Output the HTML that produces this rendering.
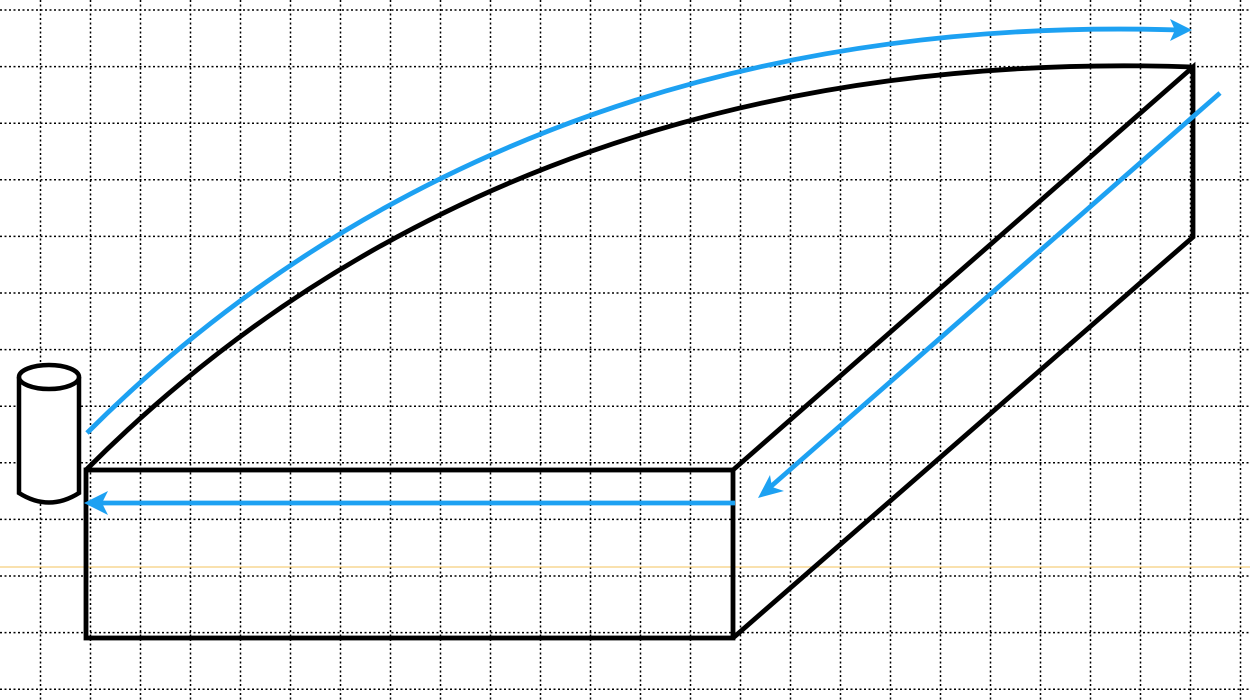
<!DOCTYPE html>
<html><head><meta charset="utf-8"><style>
html,body{margin:0;padding:0;background:#fff;width:1250px;height:700px;overflow:hidden}
svg{display:block}
</style></head><body>
<svg width="1250" height="700" viewBox="0 0 1250 700">
<g id="grid" stroke="#000" stroke-width="1.5" stroke-dasharray="2,2.5"></g>
<line x1="0" y1="567" x2="1250" y2="567" stroke="#f3c35c" stroke-width="1"/>
<g fill="none" stroke="#000" stroke-width="4.8" stroke-linejoin="miter">
<rect x="86" y="470" width="647" height="168"/>
<path d="M733,470 L1193,67 L1193,237 L733,638"/>
<path d="M86,470 C340,215 700,50 1193,67"/>
</g>
<g fill="#fff" stroke="#000" stroke-width="4.5">
<path d="M19,377 L19,493 Q49,512 79,493 L79,377"/>
<ellipse cx="49" cy="377" rx="30" ry="12"/>
</g>
<g fill="none" stroke="#1da1f2" stroke-width="4.8">
<path d="M87,433 C340,180 700,15 1180,30"/>
<line x1="1220" y1="93" x2="768" y2="489"/>
<line x1="735" y1="503" x2="95" y2="503"/>
</g>
<g fill="#1da1f2">
<polygon points="1192,30 1170,19 1175,30 1170,41"/>
<polygon points="758,498 770,475 772,487 784,491"/>
<polygon points="84,503 108,491 102,503 108,515"/>
</g>
</svg>
<script>
const g=document.getElementById('grid');
const ns='http://www.w3.org/2000/svg';
for(let i=0;i<25;i++){const x=40.5+i*50;const l=document.createElementNS(ns,'line');
l.setAttribute('x1',x);l.setAttribute('x2',x);l.setAttribute('y1',0);l.setAttribute('y2',700);


g.appendChild(l);}
for(let j=0;j<13;j++){const y=10+j*56.6;const l=document.createElementNS(ns,'line');
l.setAttribute('y1',y);l.setAttribute('y2',y);l.setAttribute('x1',0);l.setAttribute('x2',1250);


g.appendChild(l);}
</script>
</body></html>
